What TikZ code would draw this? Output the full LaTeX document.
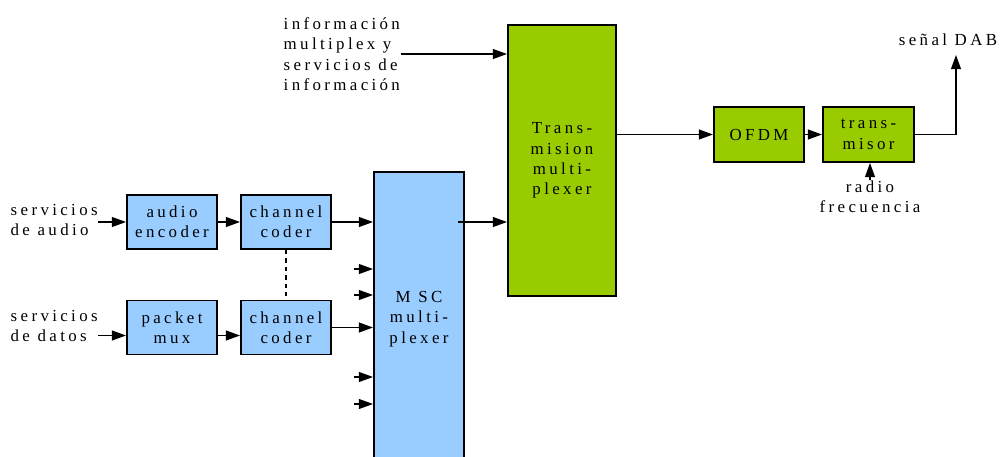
\documentclass[tikz,border=0pt]{standalone}
\usepackage{fontspec}
\setmainfont[LetterSpace=20]{Liberation Serif}
\usepackage{tikz}
\usetikzlibrary{arrows.meta}
\definecolor{boxblue}{RGB}{153,204,255}
\definecolor{boxgreen}{RGB}{153,204,0}

\begin{document}
\begin{tikzpicture}[x=0.025cm,y=0.025cm,->,>={Triangle[length=10pt,width=7pt]},
    line width=1pt,
    blue node/.style={rectangle,draw,fill=boxblue,line width=1.4pt,align=center,
                      inner sep=1pt,font=\fontsize{12}{14.5}\selectfont},
    green node/.style={blue node,fill=boxgreen},
    txt node/.style={align=left,inner sep=0pt,font=\fontsize{12}{14.5}\selectfont}]
  \useasboundingbox (0,0) rectangle (1008,456);
  % input stage
  \node[blue node,minimum width=2.25cm,minimum height=1.35cm] (enc) at (172,234) {audio\\encoder};
  \node[blue node,minimum width=2.25cm,minimum height=1.35cm] (cc1) at (286,234) {channel\\coder};
  \node[blue node,minimum width=2.25cm,minimum height=1.35cm] (mux) at (172,128.5) {packet\\mux};
  \node[blue node,minimum width=2.25cm,minimum height=1.35cm] (cc2) at (286,128.5) {channel\\coder};
  \node[blue node,minimum width=2.25cm,minimum height=7.35cm] (msc) at (419,137) {M SC\\multi-\\plexer};
  % transmission stage
  \node[green node,minimum width=2.7cm,minimum height=6.775cm] (tmux) at (562,295.5) {Trans-\\mision\\multi-\\plexer};
  \node[green node,minimum width=2.25cm,minimum height=1.375cm] (ofdm) at (759,321.5) {OFDM};
  \node[green node,minimum width=2.275cm,minimum height=1.375cm] (tx) at (868.5,321.5) {trans-\\misor};
  % texts
  \node[txt node,anchor=west] (audiolbl) at (10,236) {servicios\\de audio};
  \node[txt node,anchor=west] (datalbl) at (10,130) {servicios\\de datos};
  \node[txt node,anchor=west] (info) at (283,402) {información\\multiplex y\\servicios de\\información};
  \node[txt node] (dablbl) at (948,416) {señal DAB};
  \node[txt node,align=center,anchor=north] (rf) at (870,276) {radio\\frecuencia};

  \draw (audiolbl.east |- enc.west) -- (enc.west);
  \draw (enc) -- (cc1);
  \draw (cc1.east) -- (cc1.east -| msc.west);
  \coordinate (din) at ([yshift=-0.2cm]mux.west);
  \coordinate (dmid) at ([yshift=-0.2cm]mux.east);
  \draw (datalbl.east |- din) -- (din);
  \draw (dmid) -- (dmid -| cc2.west);
  \draw (cc2.east) -- (cc2.east -| msc.west);
  \draw[-,dashed] (cc1) -- (cc2);
  %
  \foreach \y/\n in {187/a,161/b,79/c,52/d} {
    \coordinate (in\n) at (354,\y);
    \draw (in\n) -- (in\n -| msc.west);
  }
  \draw ([xshift=-5]cc1.east -| msc.east) -- (cc1.east -| tmux.west);
  \draw (info.east) -- (info.east -| tmux.west);
  \draw (ofdm.west -| tmux.east) -- (ofdm.west);
  \draw (ofdm) -- (tx);
  \coordinate (dab) at (956,401);
  \draw (tx.east) -| (dab);
  \draw (rf.north) -- (rf.north |- tx.south);
\end{tikzpicture}
\end{document}
